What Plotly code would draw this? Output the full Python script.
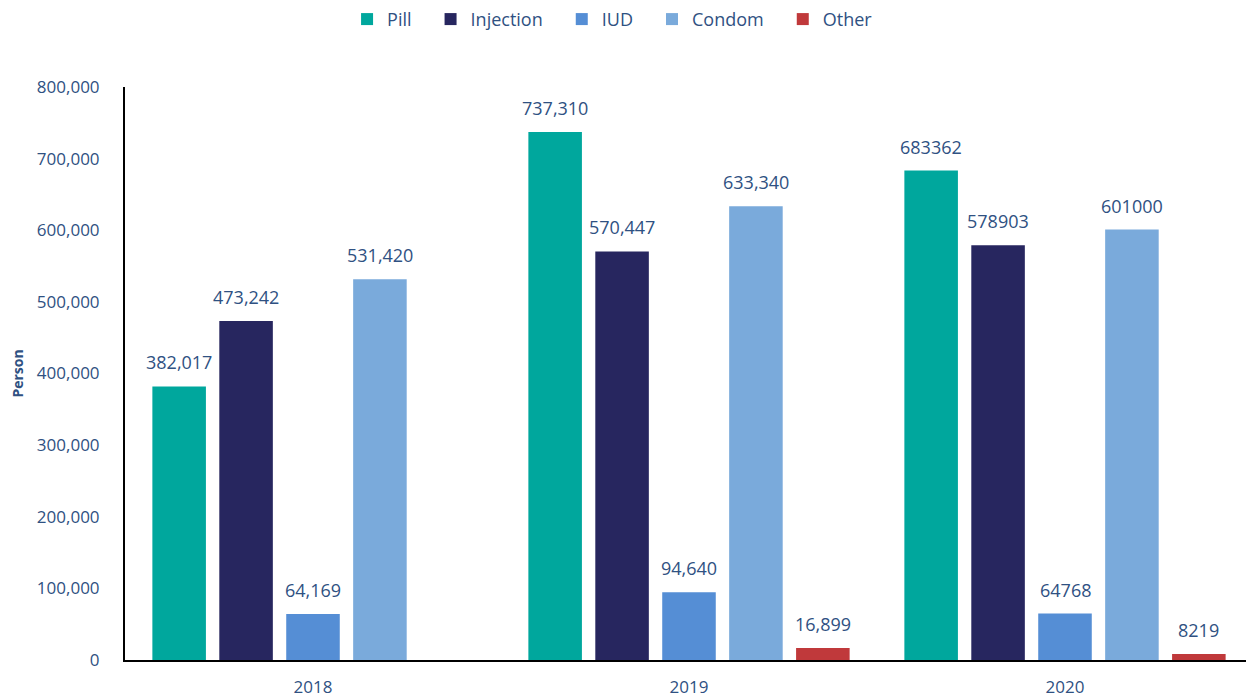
import plotly.graph_objects as go

# %%
years = ["2018", "2019", "2020"]
methods = ["Pill", "Injection", "IUD", "Condom", "Other"]
pill = [382017, 737310, 683362]
injection = [473242, 570447, 578903]
iud = [64169, 94640, 64768]
condom = [531420, 633340, 601000]
other = [None, 16899, 8219]
# labels as printed on the chart (2020 without thousands separators)
pill_labels = ["382,017", "737,310", "683362"]
injection_labels = ["473,242", "570,447", "578903"]
iud_labels = ["64,169", "94,640", "64768"]
condom_labels = ["531,420", "633,340", "601000"]
other_labels = ["", "16,899", "8219"]

colors = ["#00A79D", "#27265F", "#558ED5", "#7AAADB", "#C0393B"]
text_color = "#2F5182"
font_family = "Open Sans, Noto Sans, sans-serif"
bargap = 0.11

# %%
fig = go.Figure()
series = [
    (pill, pill_labels),
    (injection, injection_labels),
    (iud, iud_labels),
    (condom, condom_labels),
    (other, other_labels),
]
slot = (1 - bargap) / len(series)
for i, (name, color, (values, labels)) in enumerate(zip(methods, colors, series)):
    fig.add_trace(
        go.Bar(
            # trailing non-breaking spaces widen the gap between legend entries
            name=name + "\u00a0" * 3,
            x=years,
            y=values,
            marker=dict(color=color, line=dict(width=0)),
            hovertemplate=name + ": %{y:,}<extra></extra>",
        )
    )
    # value labels sit a bit higher above the bars than plotly's own outside text
    for j, (v, lab) in enumerate(zip(values, labels)):
        if v is None:
            continue
        fig.add_annotation(
            x=j + (i - (len(series) - 1) / 2) * slot,
            y=v,
            xref="x",
            yref="y",
            text=lab,
            showarrow=False,
            yanchor="bottom",
            yshift=10,
            font=dict(size=18, color=text_color, family=font_family),
        )

# the page body adds an 8px offset, margins compensate for it
fig.update_layout(
    width=1254,
    height=700,
    barmode="group",
    bargap=bargap,
    bargroupgap=0.2,
    plot_bgcolor="white",
    paper_bgcolor="white",
    margin=dict(l=117, r=9, t=79, b=48, autoexpand=False),
    font=dict(family=font_family, color=text_color, size=17),
    legend=dict(
        orientation="h",
        x=0.438,
        xanchor="center",
        y=1.118,
        yanchor="middle",
        font=dict(size=18, color=text_color),
        itemwidth=30,
        traceorder="normal",
    ),
    showlegend=True,
)
fig.update_yaxes(
    range=[0, 800000],
    tickvals=[0, 100000, 200000, 300000, 400000, 500000, 600000, 700000, 800000],
    tickformat=",",
    showgrid=False,
    zeroline=False,
    showline=True,
    linecolor="black",
    linewidth=2,
    ticks="",
    automargin=False,
    ticklabelstandoff=20,
    title=dict(text="<b>Person</b>", font=dict(size=14, color=text_color), standoff=30),
)
fig.update_xaxes(
    showgrid=False,
    showline=True,
    linecolor="black",
    linewidth=2,
    ticks="",
    automargin=False,
    ticklabelstandoff=11,
    tickfont=dict(size=17, color=text_color),
)

fig.write_html("out.html")
